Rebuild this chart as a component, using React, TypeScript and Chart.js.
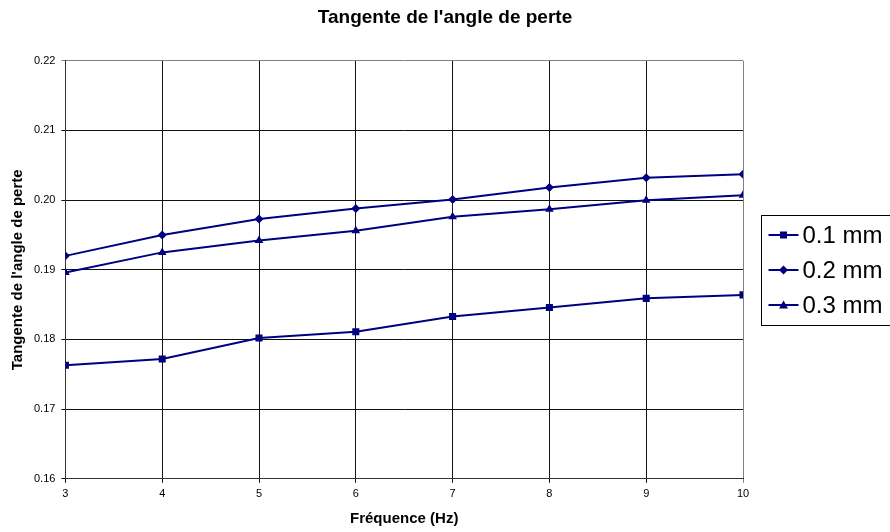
import React, { useEffect, useRef } from "react";
import { Chart, registerables } from "chart.js";

Chart.register(...registerables);

const frequencies = [3, 4, 5, 6, 7, 8, 9, 10];
const series01 = [0.1763, 0.1772, 0.1802, 0.1811, 0.1833, 0.1846, 0.1859, 0.1864];
const series02 = [0.192, 0.195, 0.1973, 0.1988, 0.2001, 0.2018, 0.2032, 0.2037];
const series03 = [0.1896, 0.1925, 0.1942, 0.1956, 0.1976, 0.1987, 0.2, 0.2007];
const seriesLabels = ["0.1 mm", "0.2 mm", "0.3 mm"];
const yTicks = [0.16, 0.17, 0.18, 0.19, 0.2, 0.21, 0.22];

const NAVY = "#000080";
const FONT = "'Liberation Sans', Arial, sans-serif";

function drawMarker(ctx: CanvasRenderingContext2D, style: string, x: number, y: number) {
  ctx.beginPath();
  if (style === "rect") {
    ctx.rect(x - 3.5, y - 3.5, 7, 7);
  } else if (style === "rectRot") {
    ctx.moveTo(x, y - 4.5);
    ctx.lineTo(x + 4.5, y);
    ctx.lineTo(x, y + 4.5);
    ctx.lineTo(x - 4.5, y);
    ctx.closePath();
  } else {
    ctx.moveTo(x, y - 4.5);
    ctx.lineTo(x + 4.5, y + 3.5);
    ctx.lineTo(x - 4.5, y + 3.5);
    ctx.closePath();
  }
  ctx.fill();
}

const legendPlugin = {
  id: "excelLegend",
  afterDraw(chart: any) {
    const ctx = chart.ctx as CanvasRenderingContext2D;
    const area = chart.chartArea;
    const left = Math.round(area.right + 18) + 0.5;
    const cy = Math.round((area.top + area.bottom) / 2);
    const top = cy - 55 + 0.5;
    ctx.save();
    ctx.strokeStyle = "#000";
    ctx.lineWidth = 1;
    ctx.strokeRect(left, top, 140, 110);
    chart.data.datasets.forEach((ds: any, i: number) => {
      const y = cy - 35 + i * 35;
      ctx.strokeStyle = NAVY;
      ctx.lineWidth = 2;
      ctx.beginPath();
      ctx.moveTo(left + 7, y);
      ctx.lineTo(left + 37, y);
      ctx.stroke();
      ctx.fillStyle = NAVY;
      drawMarker(ctx, ds.pointStyle, left + 22, y);
      ctx.fillStyle = "#000";
      ctx.font = `24px ${FONT}`;
      ctx.textBaseline = "middle";
      ctx.textAlign = "left";
      ctx.fillText(ds.label, left + 41, y + 1);
    });
    ctx.restore();
  },
};

export default function App() {
  const ref = useRef<HTMLCanvasElement>(null);
  useEffect(() => {
    document.body.style.margin = "0";
    const toPts = (vals: number[]) => vals.map((v, i) => ({ x: frequencies[i], y: v }));
    const styles = ["rect", "rectRot", "triangle"];
    const radii = [5, 4.5, 5];
    const allSeries = [series01, series02, series03];
    const chart = new Chart(ref.current!, {
      type: "line",
      data: {
        datasets: allSeries.map((s, i) => ({
          label: seriesLabels[i],
          data: toPts(s),
          borderColor: NAVY,
          backgroundColor: NAVY,
          borderWidth: 2,
          pointStyle: styles[i],
          pointRadius: radii[i],
          pointBackgroundColor: NAVY,
          pointBorderColor: NAVY,
          pointBorderWidth: 0,
          tension: 0,
          fill: false,
          yAxisID: "y",
        })),
      },
      options: {
        responsive: false,
        animation: false,
        layout: { padding: 0 },
        plugins: {
          legend: { display: false },
          tooltip: { enabled: false },
          title: {
            display: true,
            text: "Tangente de l'angle de perte",
            color: "#000",
            font: { family: FONT, size: 19, weight: "bold" },
            padding: { top: 6, bottom: 32 },
          },
        },
        scales: {
          x: {
            type: "linear",
            min: 3,
            max: 10,
            ticks: {
              stepSize: 1,
              color: "#000",
              font: { family: FONT, size: 11 },
              padding: 5,
              maxRotation: 0,
            },
            grid: {
              color: (c: any) => (c.tick && c.tick.value === 10 ? "#808080" : "#111"),
              lineWidth: 1,
              tickLength: 4,
              drawTicks: true,
            },
            border: { color: "#333", width: 1 },
            title: {
              display: true,
              text: "Fréquence (Hz)",
              color: "#000",
              font: { family: FONT, size: 15, weight: "bold" },
              padding: { top: 4, bottom: 4 },
            },
          },
          y: {
            type: "linear",
            position: "left",
            min: yTicks[0],
            max: yTicks[yTicks.length - 1],
            afterBuildTicks: (axis: any) => {
              axis.ticks = yTicks.map((v) => ({ value: v }));
            },
            ticks: {
              color: "#000",
              font: { family: FONT, size: 11 },
              padding: 6,
              callback: (v: any) => Number(v).toFixed(2),
            },
            grid: {
              color: (c: any) => (c.tick && Math.abs(c.tick.value - 0.22) < 1e-9 ? "#808080" : "#111"),
              lineWidth: 1,
              tickLength: 4,
              drawTicks: true,
            },
            border: { color: "#333", width: 1 },
            title: {
              display: true,
              text: "Tangente de l'angle de perte",
              color: "#000",
              font: { family: FONT, size: 15, weight: "bold" },
              padding: { top: 9, bottom: 1 },
            },
          },
          legendSpace: {
            type: "linear",
            position: "right",
            display: true,
            ticks: { display: false },
            grid: { display: false, drawTicks: false },
            border: { display: false },
            afterFit: (s: any) => {
              s.width = 147;
            },
          },
        },
      },
      plugins: [legendPlugin],
    } as any);
    return () => chart.destroy();
  }, []);
  return (
    <div style={{ position: "fixed", left: 0, top: 0, width: 890, height: 532, background: "#fff" }}>
      <canvas ref={ref} width={890} height={532} style={{ display: "block" }} />
    </div>
  );
}
